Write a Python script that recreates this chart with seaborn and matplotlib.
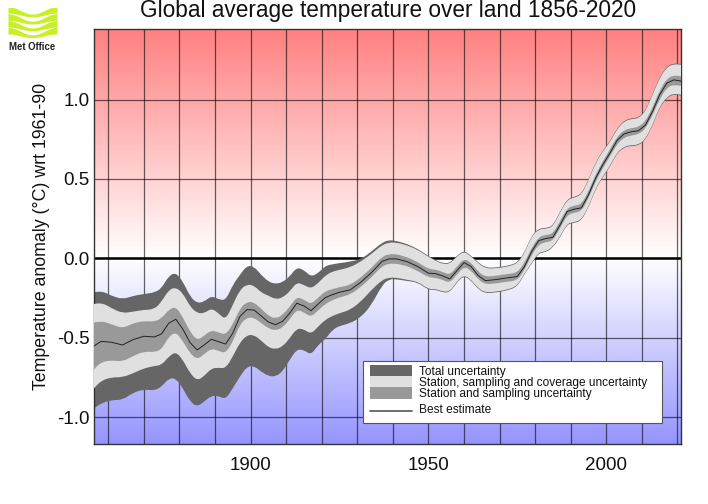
import numpy as np
import seaborn as sns
import matplotlib
matplotlib.use("Agg")
import matplotlib.pyplot as plt
from matplotlib.colors import LinearSegmentedColormap
from matplotlib.lines import Line2D
from matplotlib.patches import PathPatch, Rectangle
from matplotlib.path import Path

sns.set_style("white")
plt.rcParams["font.family"] = ["Liberation Sans", "DejaVu Sans"]

years = [1856, 1858, 1861, 1864, 1867, 1870, 1873, 1875, 1877, 1879, 1881, 1883, 1885, 1887, 1889, 1891,
         1893, 1895, 1897, 1899, 1901, 1903, 1905, 1907, 1909, 1911, 1913, 1915, 1917, 1919, 1921, 1923,
         1925, 1928, 1931, 1934, 1937, 1939, 1941, 1944, 1947, 1950, 1952, 1954, 1956, 1958, 1960, 1962,
         1964, 1966, 1969, 1972, 1975, 1977, 1979, 1981, 1983, 1985, 1987, 1989, 1991, 1993, 1995, 1997,
         1999, 2001, 2003, 2005, 2007, 2009, 2011, 2013, 2015, 2017, 2019, 2021]

best = [-.551, -.522, -.528, -.545, -.511, -.490, -.494, -.475, -.408, -.383, -.446, -.530, -.576, -.544, -.509, -.524,
        -.539, -.471, -.366, -.322, -.325, -.362, -.400, -.417, -.396, -.345, -.282, -.299, -.329, -.287, -.247, -.228,
        -.213, -.198, -.150, -.089, -.018, -.003, -.003, -.020, -.051, -.093, -.096, -.110, -.129, -.077, -.026, -.051,
        -.108, -.140, -.133, -.123, -.114, -.051, .043, .112, .125, .133, .211, .295, .310, .318, .400, .505,
        .589, .662, .742, .784, .797, .803, .839, .925, 1.030, 1.103, 1.124, 1.116]

sampling_upper = [-.404, -.392, -.415, -.440, -.408, -.394, -.398, -.377, -.323, -.303, -.371, -.462, -.516, -.486, -.451, -.466,
                  -.481, -.416, -.316, -.272, -.277, -.317, -.360, -.380, -.356, -.305, -.242, -.259, -.289, -.247, -.207, -.193,
                  -.181, -.168, -.120, -.059, .012, .027, .027, .008, -.023, -.067, -.070, -.085, -.104, -.052, -.001, -.026,
                  -.084, -.116, -.109, -.099, -.090, -.028, .066, .135, .148, .155, .233, .317, .332, .340, .422, .527,
                  .611, .684, .765, .807, .820, .826, .862, .950, 1.058, 1.131, 1.153, 1.146]

sampling_lower = [-.698, -.652, -.641, -.650, -.614, -.586, -.590, -.573, -.493, -.463, -.521, -.598, -.636, -.602, -.567, -.582,
                  -.597, -.526, -.416, -.372, -.373, -.407, -.440, -.454, -.436, -.385, -.322, -.339, -.369, -.327, -.287, -.263,
                  -.245, -.228, -.180, -.119, -.048, -.033, -.033, -.048, -.079, -.119, -.122, -.135, -.154, -.102, -.051, -.076,
                  -.132, -.164, -.157, -.147, -.138, -.074, .020, .089, .102, .111, .189, .273, .288, .296, .378, .483,
                  .567, .640, .719, .761, .774, .780, .816, .900, 1.002, 1.075, 1.095, 1.086]

coverage_upper = [-.287, -.276, -.314, -.345, -.335, -.324, -.320, -.272, -.198, -.182, -.219, -.303, -.345, -.345, -.314, -.345,
                  -.387, -.293, -.198, -.163, -.171, -.215, -.234, -.257, -.247, -.209, -.150, -.167, -.190, -.156, -.108, -.083,
                  -.072, -.056, -.020, .028, .085, .100, .100, .083, .054, .010, -.015, -.035, -.035, .012, .045, .012,
                  -.030, -.063, -.063, -.052, -.033, .033, .138, .184, .186, .200, .291, .368, .383, .400, .490, .600,
                  .673, .731, .813, .862, .878, .880, .925, 1.030, 1.134, 1.204, 1.223, 1.219]

coverage_lower = [-.818, -.769, -.748, -.748, -.723, -.692, -.677, -.671, -.618, -.587, -.639, -.723, -.769, -.740, -.692, -.688,
                  -.692, -.618, -.530, -.482, -.482, -.517, -.559, -.572, -.555, -.503, -.440, -.446, -.476, -.429, -.387, -.362,
                  -.345, -.324, -.272, -.198, -.135, -.121, -.121, -.135, -.146, -.194, -.192, -.209, -.209, -.146, -.104, -.135,
                  -.188, -.215, -.209, -.198, -.173, -.093, -.030, .039, .043, .074, .137, .221, .228, .243, .326, .442,
                  .515, .582, .666, .704, .713, .715, .750, .841, .956, 1.015, 1.040, 1.030]

total_upper = [-.213, -.203, -.236, -.257, -.236, -.224, -.215, -.188, -.110, -.089, -.146, -.240, -.282, -.272, -.236, -.257,
               -.265, -.167, -.104, -.045, -.051, -.104, -.146, -.161, -.150, -.114, -.056, -.073, -.115, -.093, -.047, -.037,
               -.030, -.020, -.005, .043, .100, .116, .110, .091, .060, .015, -.010, -.030, -.030, .017, .050, .017,
               -.025, -.058, -.058, -.047, -.028, .038, .143, .189, .191, .205, .296, .373, .388, .405, .495, .605,
               .678, .736, .818, .867, .883, .885, .930, 1.035, 1.139, 1.209, 1.228, 1.224]

total_lower = [-.944, -.912, -.891, -.891, -.845, -.824, -.832, -.807, -.755, -.755, -.818, -.901, -.933, -.901, -.864, -.866,
               -.887, -.818, -.744, -.681, -.677, -.713, -.740, -.744, -.712, -.639, -.572, -.576, -.608, -.545, -.509, -.450,
               -.425, -.408, -.371, -.293, -.167, -.131, -.131, -.142, -.151, -.199, -.197, -.214, -.214, -.151, -.109, -.140,
               -.193, -.220, -.214, -.203, -.178, -.098, -.035, .034, .038, .069, .132, .216, .223, .238, .321, .437,
               .510, .577, .661, .699, .708, .710, .745, .836, .951, 1.010, 1.035, 1.025]

x_ticks = [1900, 1950, 2000]
y_ticks = [-1.0, -0.5, 0.0, 0.5, 1.0]
x_lim = (1856, 2021)
y_lim = (-1.168, 1.447)
grid_years = list(range(1860, 2030, 10))

legend_labels = ["Total uncertainty", "Station, sampling and coverage uncertainty",
                 "Station and sampling uncertainty", "Best estimate"]
DARK, LIGHT, MID = "#666666", "#e0e0e0", "#999999"
LOGO_GREEN = "#c8f026"

W, H = 708, 504


def curve_edge(xs, ys):
    # read values act as control points of quadratic curves, so the edge bends instead of kinking
    verts, codes = [], []
    for i in range(1, len(xs) - 1):
        verts += [(xs[i], ys[i]), ((xs[i] + xs[i + 1]) / 2, (ys[i] + ys[i + 1]) / 2)]
        codes += [Path.CURVE3, Path.CURVE3]
    verts.append((xs[-1], ys[-1]))
    codes.append(Path.LINETO)
    return verts, codes


def add_band(ax, lower, upper, color, zorder):
    v_top, c_top = curve_edge(years, upper)
    v_bot, c_bot = curve_edge(years[::-1], lower[::-1])
    verts = [(years[0], upper[0])] + v_top + [(years[-1], lower[-1])] + v_bot + [(years[0], upper[0])]
    codes = [Path.MOVETO] + c_top + [Path.LINETO] + c_bot + [Path.CLOSEPOLY]
    ax.add_patch(PathPatch(Path(verts, codes), fc=color, ec="none", zorder=zorder))


fig = plt.figure(figsize=(W / 100, H / 100), dpi=100)
ax = fig.add_axes([94 / W, 1 - 444 / H, 587 / W, 415.5 / H])

# background gradient, white at zero
zero_frac = -y_lim[0] / (y_lim[1] - y_lim[0])
cmap = LinearSegmentedColormap.from_list(
    "bg", [(0, "#9595ff"), (zero_frac, "#ffffff"), (1, "#ff8080")])
ax.imshow(np.linspace(1, 0, 256).reshape(-1, 1), cmap=cmap, vmin=0, vmax=1, aspect="auto",
          extent=(*x_lim, *y_lim), zorder=0)

for yr in grid_years:
    ax.axvline(yr, color="black", lw=0.9, alpha=0.6, zorder=1)
for val in y_ticks:
    ax.axhline(val, color="black", lw=0.9, alpha=0.6, zorder=1)
ax.axhline(0, color="black", lw=1.8, zorder=1)

add_band(ax, total_lower, total_upper, DARK, 2)
add_band(ax, coverage_lower, coverage_upper, LIGHT, 3)
add_band(ax, sampling_lower, sampling_upper, MID, 4)
sns.lineplot(x=years, y=best, color="#222222", lw=0.7, ax=ax, zorder=5)

ax.set_xlim(*x_lim)
ax.set_ylim(*y_lim)
ax.set_xticks(x_ticks)
ax.set_yticks(y_ticks)
ax.set_xticklabels([str(t) for t in x_ticks])
ax.set_yticklabels([f"{t:.1f}" for t in y_ticks])
ax.tick_params(axis="x", length=0, labelsize=13.5, pad=9, colors="#111111")
ax.tick_params(axis="y", length=0, labelsize=13.5, pad=3, colors="#111111")
ax.set_ylabel("Temperature anomaly (\u00b0C) wrt 1961-90", fontsize=12.8, color="#111111")
ax.yaxis.set_label_coords((50 - 94) / 587, 0.5)
for side in ax.spines.values():
    side.set_color("#333333")
    side.set_linewidth(1.0)

fig.text(388 / W, 1 - 11 / H, "Global average temperature over land 1856-2020",
         fontsize=16.3, ha="center", va="center", color="#111111")


def fx(px):
    return px / W


def fy(py):
    return 1 - py / H


# legend box, laid out by hand because the rows overlap in the original
fig.add_artist(Rectangle((fx(363), fy(423)), 298.5 / W, 62 / H, transform=fig.transFigure,
                         fc="white", ec="#555555", lw=0.8, zorder=3))
for top, col in zip([365, 376, 387], [DARK, LIGHT, MID]):
    fig.add_artist(Rectangle((fx(370), fy(top + 11.5)), 42 / W, 11.5 / H, transform=fig.transFigure,
                             fc=col, ec="none", zorder=4))
fig.add_artist(Line2D([fx(370), fx(412)], [fy(411), fy(411)], transform=fig.transFigure,
                      color="#555555", lw=1.2, zorder=4))
for py, label in zip([372, 383, 394, 410], legend_labels):
    fig.text(fx(419), fy(py), label, fontsize=8.55, va="center", color="#111111", zorder=5)

# Met Office logo
logo = fig.add_axes([8 / W, 1 - 39 / H, 49 / W, 31 / H])
t = np.linspace(0, 1, 80)
for base in [0.85, 0.62, 0.40, 0.18]:
    wave = 0.09 * np.cos(2 * np.pi * t)
    thick = 0.075 + 0.03 * np.cos(2 * np.pi * t)
    logo.fill_between(t, base + wave - thick, base + wave + thick, color=LOGO_GREEN, lw=0)
logo.set_xlim(0, 1)
logo.set_ylim(0, 1)
logo.axis("off")
fig.text(32 / W, 1 - 47 / H, "Met Office", fontsize=6.9, fontweight="bold", ha="center", va="center", color="#222222")

fig.savefig("out.png", dpi=100)
